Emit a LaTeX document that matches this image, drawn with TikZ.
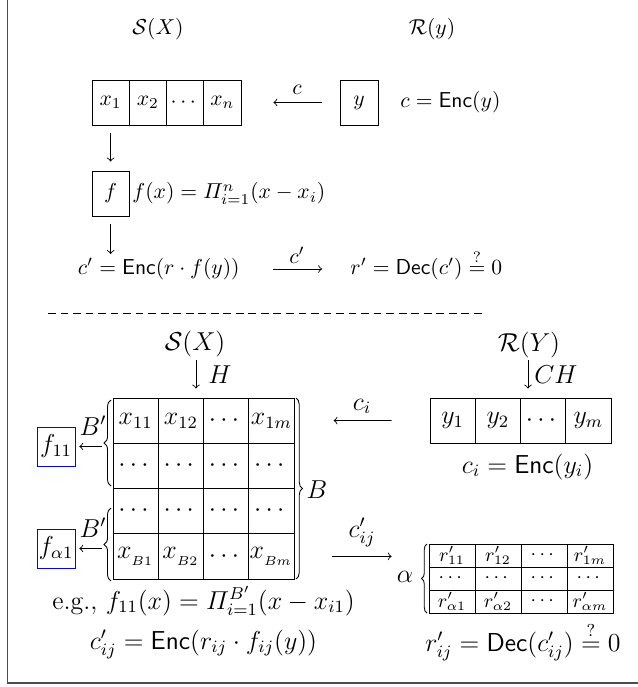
\documentclass[tikz,border=0pt]{standalone}
\usepackage{amsmath,amssymb}
\usetikzlibrary{decorations.pathreplacing}
\begin{document}
\begin{tikzpicture}[x=0.463pt,y=-0.463pt,
  txt/.style={inner sep=0pt,anchor=base},
  cellA/.style={draw,inner sep=0pt,minimum width=17.25pt,minimum height=20.8pt},
  mcell/.style={draw,inner sep=0pt,minimum width=20.95pt,minimum height=20.95pt},
  ycell/.style={draw,inner sep=0pt,minimum width=20.95pt,minimum height=20.8pt},
  rcell/.style={draw,inner sep=0pt,minimum width=21.3pt,minimum height=10.65pt,font=\fontsize{8.6}{10}\selectfont},
  fbox/.style={draw=blue,inner sep=0pt,minimum width=17.6pt,minimum height=18pt},
  arr/.style={->},
  brc/.style={decorate,decoration={brace,amplitude=#1}},
  brc/.default=3pt,
  big/.style={every node/.append style={font=\fontsize{12}{14.4}\selectfont}},
  frame/.style={line width=0.9pt,black!70}]
\useasboundingbox (0,0) rectangle (637,687);
\draw[frame] (7.5,0) -- (7.5,683) -- (640,683);

% ---------- top part ----------
\node[txt] (SXa) at (158,34.6) {$\mathcal{S}(X)$};
\node[txt] (Rya) at (432,34.6) {$\mathcal{R}(y)$};
\foreach \i/\xx/\t in {1/110.6/x_1,2/147.9/x_2,3/185.1/\cdots,4/222.4/x_n}
  \node[cellA] (x\i) at (\xx,102.5) {$\t$};
\node[cellA,minimum width=17.6pt] (yb) at (359,102.5) {$y$};
\node[txt,anchor=base west] (ency) at (400,107.5) {$c=\mathsf{Enc}(y)$};
\draw[arr,shorten <=8.3pt,shorten >=14.8pt] (yb) -- (x4);
\node[txt] (lc) at (297,95) {$c$};

\node[cellA] (fb) at (110.6,193.5) {$f$};
\draw[arr,shorten <=3.7pt,shorten >=4.2pt] (x1) -- (fb);
\node[txt,anchor=base west] (fx) at (132,199) {$f(x)=\varPi_{i=1}^{n}(x-x_i)$};
\node[txt,anchor=base east] (cp) at (240,274.4) {$c'=\mathsf{Enc}(r\cdot f(y))$};
\coordinate (cpt) at (110.6,254);
\draw[arr,shorten <=3.7pt] (fb) -- (cpt);
\node[txt,anchor=base west] (rp) at (350,274.4) {$r'=\mathsf{Dec}(c')\stackrel{?}{=}0$};
\draw[arr,shorten <=15.3pt,shorten >=12.95pt] ([yshift=2.5pt]cp.base east) -- ([yshift=2.5pt]rp.base west);
\node[txt] (lcp) at (297,263) {$c'$};

\draw[dash pattern=on 3.6pt off 2.2pt] (48,313) -- (483,313);

% ---------- bottom part ----------
\begin{scope}[big]
\node[txt] (SXb) at (195,350) {$\mathcal{S}(X)$};
\node[txt] (RYb) at (529,351) {$\mathcal{R}(Y)$};

\foreach \c/\xx/\t in {1/135.6/x_{11},2/180.9/x_{12},3/226.1/\cdots,4/271.4/x_{1m}}
  \node[mcell] (m1\c) at (\xx,420.6) {$\t$};
\foreach \r/\yy in {2/465.9,3/511.1}
  \foreach \c/\xx in {1/135.6,2/180.9,3/226.1,4/271.4}
    \node[mcell] (m\r\c) at (\xx,\yy) {$\cdots$};
\foreach \c/\xx/\t in {1/135.6/x_{_{B1}},2/180.9/x_{_{B2}},3/226.1/\cdots,4/271.4/x_{_{Bm}}}
  \node[mcell] (m4\c) at (\xx,556.4) {$\t$};

\coordinate (hH) at (196,360);
\draw[arr,shorten >=4.2pt] (hH) -- (hH |- m12.north);
\node[txt] (lH) at (220,383) {$H$};

\foreach \c/\xx/\t in {1/452.6/y_1,2/497.9/y_2,3/543.1/\cdots,4/588.4/y_m}
  \node[ycell] (y\c) at (\xx,420.5) {$\t$};
\coordinate (hCH) at (528,360);
\draw[arr,shorten >=4.2pt] (hCH) -- (hCH |- y3.north);
\node[txt] (lCH) at (556,383) {$CH$};
\node[txt] (enci) at (527.5,473) {$c_i=\mathsf{Enc}(y_i)$};
\draw[arr,shorten <=17.6pt,shorten >=18.1pt] (y1) -- (m14);
\node[txt] (lci) at (362,410) {$c_i$};

\draw[brc=3pt] (296,398) -- (296,579);
\node[txt] (lB) at (317,498) {$B$};
\draw[brc=3.2pt] (111,486) -- (111,400);
\draw[brc=3.2pt] (111,581) -- (111,508);
\node[txt] (lBp1) at (93,435) {$B'$};
\node[txt] (lBp2) at (93,537) {$B'$};
\node[fbox] (f11) at (56,446.5) {$f_{11}$};
\node[fbox] (fa1) at (56,548.5) {$f_{\alpha1}$};
\coordinate (bt1) at (102,446.5);
\coordinate (bt2) at (102,548.5);
\draw[arr,shorten >=1.8pt] (bt1) -- (f11);
\draw[arr,shorten >=1.8pt] (bt2) -- (fa1);

\foreach \c/\xx/\t in {1/452/r'_{11},2/498/r'_{12},3/544/\cdots,4/590/r'_{1m}}
  \node[rcell] (r1\c) at (\xx,555.5) {$\t$};
\foreach \c/\xx in {1/452,2/498,3/544,4/590}
  \node[rcell] (r2\c) at (\xx,578.5) {$\cdots$};
\foreach \c/\xx/\t in {1/452/r'_{\alpha1},2/498/r'_{\alpha2},3/544/\cdots,4/590/r'_{\alpha m}}
  \node[rcell] (r3\c) at (\xx,601.5) {$\t$};
\draw[brc=2.5pt] (427,613) -- (427,544);
\node[txt] (lal) at (405,582) {$\alpha$};
\draw[arr,shorten <=17.6pt,shorten >=17.1pt] (m44.east) -- (m44.east -| r11.west);
\node[txt] (lcij) at (362,537) {$c'_{ij}$};

\node[txt] (eg) at (203.5,609) {e.g., $f_{11}(x)=\varPi_{i=1}^{B'}(x-x_{i1})$};
\node[txt] (cij) at (203.5,649) {$c'_{ij}=\mathsf{Enc}(r_{ij}\cdot f_{ij}(y))$};
\node[txt] (rij) at (523,651) {$r'_{ij}=\mathsf{Dec}(c'_{ij})\stackrel{?}{=}0$};
\end{scope}
\end{tikzpicture}
\end{document}
